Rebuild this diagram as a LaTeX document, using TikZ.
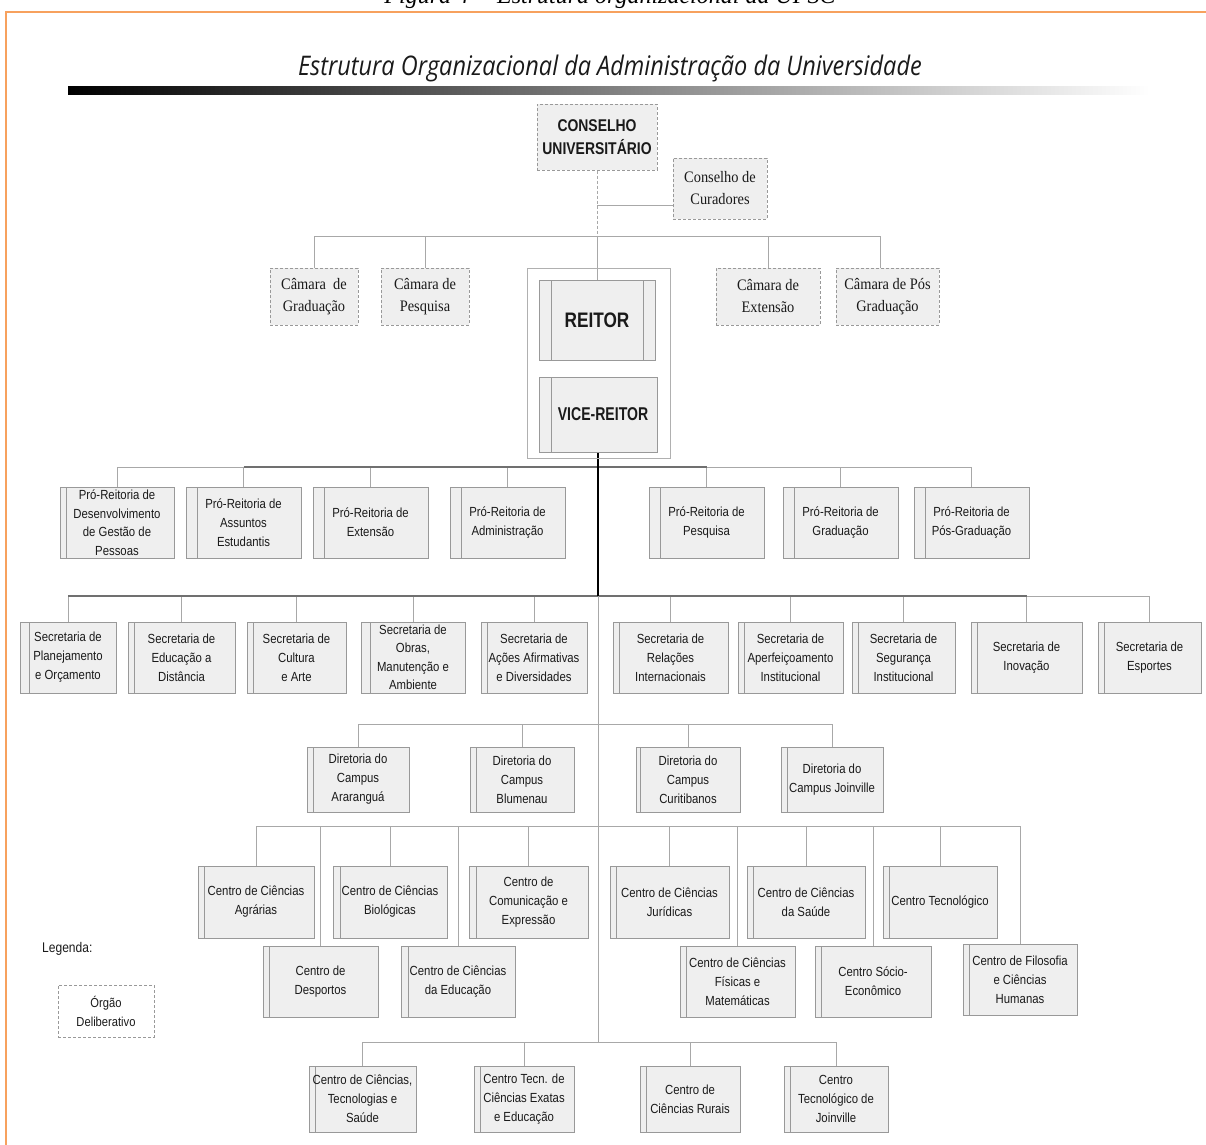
\documentclass[tikz,border=0pt]{standalone}
\usepackage{fontspec}
\setmainfont{Liberation Sans}
\newfontfamily\boxfont{Liberation Sans}[FakeStretch=0.86]
\newfontfamily\boldfont{Liberation Sans}[FakeStretch=0.82]
\newfontfamily\vicefont{Liberation Sans}[FakeStretch=0.76]
\newfontfamily\serfont{Liberation Serif}[FakeStretch=0.9]
\newfontfamily\headfont{Open Sans}[FakeStretch=0.87]
\newfontfamily\capfont{Liberation Serif}
\usetikzlibrary{backgrounds}

\definecolor{boxfill}{HTML}{EFEFEF}
\definecolor{boxdraw}{HTML}{999999}
\definecolor{linegray}{HTML}{A8A8A8}
\definecolor{busdark}{HTML}{707070}
\definecolor{framegray}{HTML}{B0B0B0}
\definecolor{orangeframe}{HTML}{F7A15E}
\definecolor{txt}{HTML}{1A1A1A}

\tikzset{
  orgbox/.style={draw=boxdraw, fill=boxfill, line width=1, inner sep=0pt,
    align=center, text=txt, font=\boxfont\fontsize{13.2}{19}\selectfont,
    path picture={\draw[boxdraw, line width=1]
      ([xshift=#1]path picture bounding box.north west) --
      ([xshift=#1]path picture bounding box.south west);}},
  orgbox/.default=7,
  twinbox/.style={draw=boxdraw, fill=boxfill, line width=1, inner sep=0pt,
    align=center, text=txt,
    path picture={\draw[boxdraw, line width=1]
      ([xshift=#1]path picture bounding box.north west) --
      ([xshift=#1]path picture bounding box.south west)
      ([xshift=-#1]path picture bounding box.north east) --
      ([xshift=-#1]path picture bounding box.south east);}},
  delib/.style={draw=boxdraw, line width=1, dash pattern=on 3pt off 2pt,
    fill=boxfill, inner sep=0pt, align=center, text=txt,
    font=\serfont\fontsize{16}{22}\selectfont},
  conn/.style={draw=linegray, line width=1},
  conndash/.style={conn, dash pattern=on 3pt off 2pt},
  darkbus/.style={draw=busdark, line width=1.2},
  spine/.style={draw=black, line width=2},
}

\begin{document}
\begin{tikzpicture}[x=1pt,y=-1pt]
\useasboundingbox (0,0) rectangle (1206,1144);

% caption above the frame
\node[anchor=base, font=\capfont\itshape\fontsize{24}{24}\selectfont, inner sep=0pt]
  (caption) at (610,3) {Figura 4 -- Estrutura organizacional da UFSC};

% outer frame
\draw[orangeframe, line width=2] (6,1160) -- (6,12) -- (1220,12);

% heading and shaded rule
\node[anchor=base, font=\headfont\itshape\fontsize{27}{27}\selectfont, text=txt, inner sep=0pt]
  (head) at (610,75) {Estrutura Organizacional da Administração da Universidade};
\shade[left color=black, right color=white] (68,86) rectangle (1150,94);

% ---- councils
\node[delib, minimum width=120, minimum height=66,
  font=\boldfont\bfseries\fontsize{17}{23}\selectfont] (cu) at (597,137)
  {CONSELHO\\UNIVERSITÁRIO};
\node[delib, minimum width=94, minimum height=61] (curad) at (720,188.5)
  {Conselho de\\Curadores};

\node[delib, minimum width=88, minimum height=57] (camG) at (314,296.5) {Câmara~ de\\Graduação};
\node[delib, minimum width=88, minimum height=57] (camP) at (425,296.5) {Câmara de\\Pesquisa};
\node[delib, minimum width=104, minimum height=57] (camE) at (768,296.5) {Câmara de\\Extensão};
\node[delib, minimum width=103, minimum height=57] (camPG) at (887.5,296.5) {Câmara de Pós\\Graduação};

% ---- rectorate
\node[draw=framegray, line width=1, minimum width=143, minimum height=190, inner sep=0pt]
  (rect) at (598.5,363) {};
\node[twinbox=12, minimum width=116, minimum height=80,
  font=\boldfont\bfseries\fontsize{21}{24}\selectfont] (reitor) at (597,320) {REITOR};
\node[orgbox=12, minimum width=118, minimum height=75,
  font=\vicefont\bfseries\fontsize{18.5}{22}\selectfont] (vice) at (598,414.5)
  {\hspace*{10pt}VICE-REITOR};

% ---- pro-rectorates
\node[orgbox=6, minimum width=114, minimum height=71,
  font=\boxfont\fontsize{13.2}{18.5}\selectfont] (pr1) at (117,522.5)
  {Pró-Reitoria de\\Desenvolvimento\\de Gestão de\\Pessoas};
\node[orgbox=11, minimum width=115, minimum height=71] (pr2) at (243.5,522.5)
  {Pró-Reitoria de\\Assuntos\\Estudantis};
\node[orgbox=11, minimum width=115, minimum height=71] (pr3) at (370.5,522.5)
  {Pró-Reitoria de\\Extensão};
\node[orgbox=11, minimum width=115, minimum height=71] (pr4) at (507.5,522.5)
  {Pró-Reitoria de\\Administração};
\node[orgbox=11, minimum width=115, minimum height=71] (pr5) at (706.5,522.5)
  {Pró-Reitoria de\\Pesquisa};
\node[orgbox=11, minimum width=115, minimum height=71] (pr6) at (840.5,522.5)
  {Pró-Reitoria de\\Graduação};
\node[orgbox=11, minimum width=115, minimum height=71] (pr7) at (971.5,522.5)
  {Pró-Reitoria de\\Pós-Graduação};

% ---- secretariats
\node[orgbox=9, minimum width=96, minimum height=71] (s1) at (68,657.5)
  {Secretaria de\\Planejamento\\e Orçamento};
\node[orgbox=6, minimum width=107, minimum height=71] (s2) at (181.5,657.5)
  {Secretaria de\\Educação a\\Distância};
\node[orgbox=6, minimum width=99, minimum height=71] (s3) at (296.5,657.5)
  {Secretaria de\\Cultura\\e Arte};
\node[orgbox=9, minimum width=104, minimum height=71,
  font=\boxfont\fontsize{13.2}{18.5}\selectfont] (s4) at (413,657.5)
  {Secretaria de\\Obras,\\Manutenção e\\Ambiente};
\node[orgbox=6, minimum width=106, minimum height=71] (s5) at (534,657.5)
  {Secretaria de\\Ações Afirmativas\\e Diversidades};
\node[orgbox=6, minimum width=115, minimum height=71] (s6) at (670.5,657.5)
  {Secretaria de\\Relações\\Internacionais};
\node[orgbox=6, minimum width=105, minimum height=71] (s7) at (790.5,657.5)
  {Secretaria de\\Aperfeiçoamento\\Institucional};
\node[orgbox=6, minimum width=103, minimum height=71] (s8) at (903.5,657.5)
  {Secretaria de\\Segurança\\Institucional};
\node[orgbox=6, minimum width=111, minimum height=71] (s9) at (1026.5,657.5)
  {Secretaria de\\Inovação};
\node[orgbox=6, minimum width=103, minimum height=71] (s10) at (1149.5,657.5)
  {Secretaria de\\Esportes};

% ---- campus directorates
\node[orgbox=6, minimum width=102, minimum height=65] (d1) at (358,779.5)
  {Diretoria do\\Campus\\Araranguá};
\node[orgbox=6, minimum width=104, minimum height=65] (d2) at (522,779.5)
  {Diretoria do\\Campus\\Blumenau};
\node[orgbox=4, minimum width=104, minimum height=65] (d3) at (688,779.5)
  {Diretoria do\\Campus\\Curitibanos};
\node[orgbox=6, minimum width=102, minimum height=65] (d4) at (832,779.5)
  {Diretoria do\\Campus Joinville};

% ---- teaching centres, upper line
\node[orgbox=6, minimum width=116, minimum height=72] (c1) at (256,902)
  {Centro de Ciências\\Agrárias};
\node[orgbox=7, minimum width=114, minimum height=72] (c2) at (390,902)
  {Centro de Ciências\\Biológicas};
\node[orgbox=7, minimum width=119, minimum height=72] (c3) at (528.5,902)
  {Centro de\\Comunicação e\\Expressão};
\node[orgbox=6, minimum width=119, minimum height=72] (c4) at (669.5,902)
  {Centro de Ciências\\Jurídicas};
\node[orgbox=6, minimum width=118, minimum height=72] (c5) at (806,902)
  {Centro de Ciências\\da Saúde};
\node[orgbox=6, minimum width=114, minimum height=72] (c6) at (940,902)
  {Centro Tecnológico};

% ---- teaching centres, lower line
\node[orgbox=6, minimum width=115, minimum height=71] (c7) at (320.5,981.5)
  {Centro de\\Desportos};
\node[orgbox=7, minimum width=114, minimum height=71] (c8) at (458,981.5)
  {Centro de Ciências\\da Educação};
\node[orgbox=6, minimum width=115, minimum height=71] (c9) at (737.5,981.5)
  {Centro de Ciências\\Físicas e\\Matemáticas};
\node[orgbox=6, minimum width=116, minimum height=71] (c10) at (873,981.5)
  {Centro Sócio-\\Econômico};
\node[orgbox=6, minimum width=114, minimum height=71] (c11) at (1020,979.5)
  {Centro de Filosofia\\e Ciências\\Humanas};

% ---- centres of the other campuses
\node[orgbox=6, minimum width=107, minimum height=66] (b1) at (362.5,1099)
  {Centro de Ciências,\\Tecnologias e\\Saúde};
\node[orgbox=6, minimum width=100, minimum height=66] (b2) at (524,1099)
  {Centro Tecn. de\\Ciências Exatas\\e Educação};
\node[orgbox=6, minimum width=100, minimum height=66] (b3) at (690,1099)
  {Centro de\\Ciências Rurais};
\node[orgbox=6, minimum width=104, minimum height=66] (b4) at (836,1099)
  {Centro\\Tecnológico de\\Joinville};

% ---- legend
\node[anchor=west, font=\boxfont\fontsize{14}{16}\selectfont, text=txt, inner sep=0pt]
  (legtitle) at (42,949) {Legenda:};
\node[delib, fill=white, minimum width=96, minimum height=52,
  font=\boxfont\fontsize{13}{19}\selectfont] (legbox) at (106,1011) {Órgão\\Deliberativo};

% ---- junction points
\coordinate (jCur) at (597,205);
\coordinate (jTop) at (597,236);
\coordinate (jPro) at (598,467);
\coordinate (jSec) at (598,596);
\coordinate (jDir) at (598,724);
\coordinate (jCen) at (598,826);
\coordinate (jBot) at (598,1042);

% ---- connectors, kept behind the boxes
\begin{scope}[on background layer]
  \draw[conndash] (cu.south) -- (jTop);
  \draw[conn] (jCur) -- (curad.west |- jCur);
  \draw[conn] (jTop) -- (reitor.north);
  \foreach \n in {camG,camP,camE} \draw[conn] (jTop) -| (\n.north);
  \draw[conn] (jTop) -| ([xshift=-7pt]camPG.north);

  \foreach \n in {pr1,pr2,pr3,pr4,pr5,pr6,pr7} \draw[conn] (jPro) -| (\n.north);
  \draw[darkbus] (pr2.north |- jPro) -- (pr5.north |- jPro);

  \foreach \n in {s1,s2,s3,s4,s5,s6,s7,s8,s9,s10} \draw[conn] (jSec) -| (\n.north);
  \draw[darkbus] (s1.north |- jSec) -- (s9.north |- jSec);

  \draw[conn] (jSec) -- (jBot);
  \foreach \n in {d1,d2,d3,d4} \draw[conn] (jDir) -| (\n.north);
  \foreach \n in {c1,c2,c3,c4,c5,c6,c7,c8,c9,c10,c11} \draw[conn] (jCen) -| (\n.north);
  \foreach \n in {b1,b2,b3,b4} \draw[conn] (jBot) -| (\n.north);

  \draw[spine] (vice.south) -- (jSec);
\end{scope}
\end{tikzpicture}
\end{document}
